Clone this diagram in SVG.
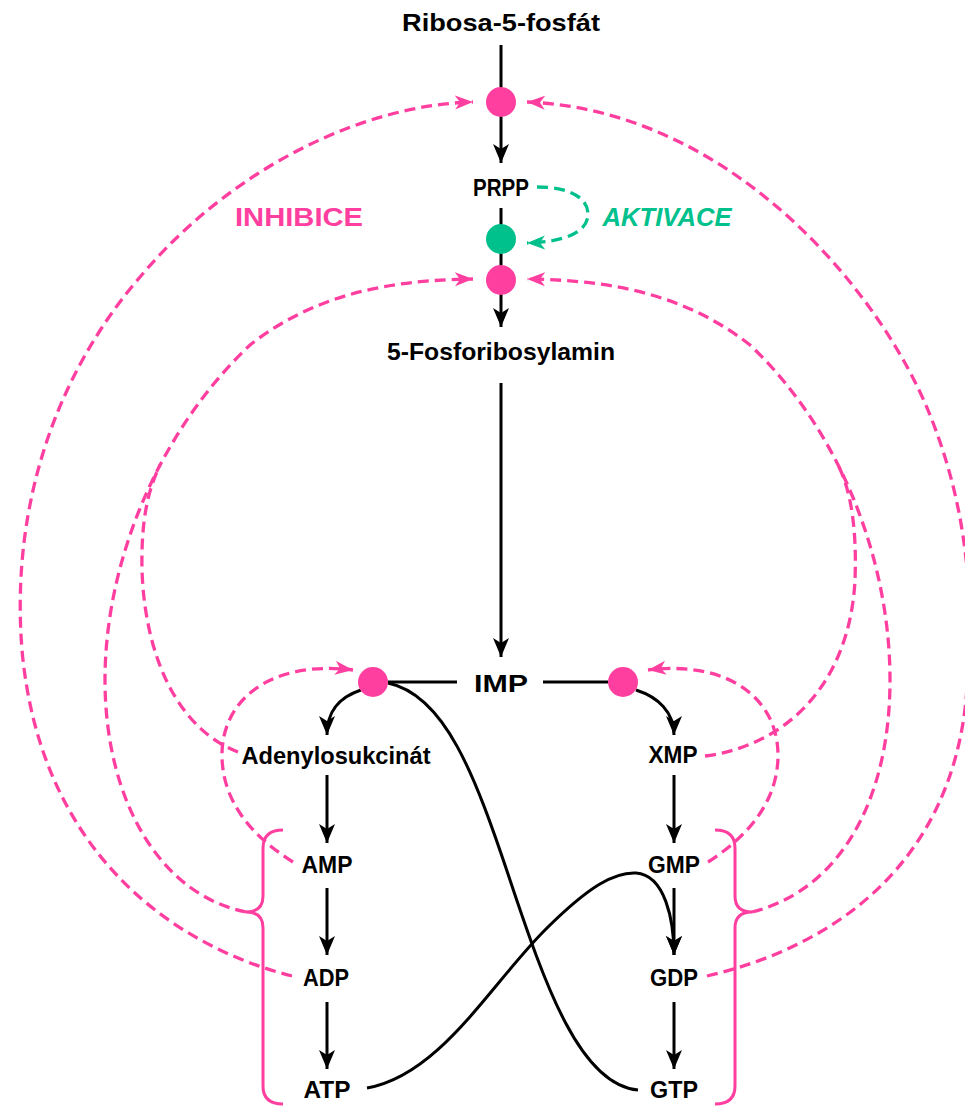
<svg xmlns="http://www.w3.org/2000/svg" width="965" height="1106" viewBox="0 0 965 1106">
<style>
.lbl{font-family:"Liberation Sans","DejaVu Sans",sans-serif;font-weight:bold;font-size:24px;fill:#000;text-anchor:middle}
.big{font-family:"Liberation Sans","DejaVu Sans",sans-serif;font-weight:bold;font-size:26px;text-anchor:middle}
.blk{fill:none;stroke:#000;stroke-width:3}
.inh{fill:none;stroke:#ff3fa0;stroke-width:3.3;stroke-dasharray:11 6}
.act{fill:none;stroke:#00c08c;stroke-width:3.3;stroke-dasharray:11 6}
.brace{fill:none;stroke:#ff3fa0;stroke-width:3}
.pk{fill:#ff3fa0}
.gn{fill:#00c08c}
</style>
<defs>
<marker id="ab" markerUnits="userSpaceOnUse" markerWidth="22" markerHeight="18" refX="19" refY="8" orient="auto"><path d="M0,0 L19,8 L0,16 L5,8 z" fill="#000"/></marker>
<marker id="ap" markerUnits="userSpaceOnUse" markerWidth="20" markerHeight="16" refX="18" refY="7" orient="auto"><path d="M0,0 L18,7 L0,14 L5,7 z" fill="#ff3fa0"/></marker>
<marker id="ag" markerUnits="userSpaceOnUse" markerWidth="20" markerHeight="16" refX="18" refY="7" orient="auto"><path d="M0,0 L18,7 L0,14 L5,7 z" fill="#00c08c"/></marker>
</defs>

<g id="connectors">
<path class="blk" d="M501,45 L501,88"/>
<path class="blk" d="M501,116 L501,163" marker-end="url(#ab)"/>
<path class="blk" d="M501,208 L501,225"/>
<path class="blk" d="M501,253 L501,266"/>
<path class="blk" d="M501,294 L501,327" marker-end="url(#ab)"/>
<path class="blk" d="M501,383 L501,657" marker-end="url(#ab)"/>
<path class="blk" d="M388,682 L457,682"/>
<path class="blk" d="M543,682 L608,682"/>
<path class="blk" d="M361,690 C 340,697 327,710 327,735" marker-end="url(#ab)"/>
<path class="blk" d="M636,690 C 658,697 674,712 674,735" marker-end="url(#ab)"/>
<path class="blk" d="M327,775 L327,843" marker-end="url(#ab)"/>
<path class="blk" d="M327,888 L327,955" marker-end="url(#ab)"/>
<path class="blk" d="M327,1002 L327,1069" marker-end="url(#ab)"/>
<path class="blk" d="M674,775 L674,843" marker-end="url(#ab)"/>
<path class="blk" d="M674,888 L674,955" marker-end="url(#ab)"/>
<path class="blk" d="M674,1002 L674,1069" marker-end="url(#ab)"/>
<path class="blk" d="M388,683 C 445,695 475,775 510,880 C 545,985 580,1085 638,1090"/>
<path class="blk" d="M367,1088 C 440,1075 490,985 545,930 C 590,885 615,872 636,873 C 665,875 674,920 674,955" marker-end="url(#ab)"/>

<path class="act" d="M537,187 C 570,187 588,198 588,214 C 588,232 565,242 527,243" marker-end="url(#ag)"/>

<path class="inh" d="M292,976 C 170,945 40,850 22,650 C 10,500 60,370 140,277 C 230,170 360,105 473,102" marker-end="url(#ap)"/>
<path class="inh" d="M246,912 C 160,895 105,800 105,680 C 105,560 160,430 250,345 C 320,290 400,280 473,279" marker-end="url(#ap)"/>
<path class="inh" d="M238,752 C 180,730 145,660 142,570 C 141,520 148,490 160,465"/>
<path class="inh" d="M293,862 C 250,835 222,800 222,755 C 222,700 270,660 353,670" marker-end="url(#ap)"/>
<path class="inh" d="M708,862 C 750,835 778,800 778,755 C 778,700 730,660 648,670" marker-end="url(#ap)"/>
<path class="inh" d="M705,756 C 790,745 850,680 855,580 C 857,530 851,490 838,465"/>
<path class="inh" d="M752,912 C 840,890 890,800 890,680 C 890,560 840,430 750,345 C 680,290 600,280 527,279" marker-end="url(#ap)"/>
<path class="inh" d="M707,976 C 840,945 950,860 966,700 C 975,600 968,510 930,415 C 880,290 730,110 527,102" marker-end="url(#ap)"/>

<path class="brace" d="M283,830 Q263,830 263,848 L263,896 Q263,912 246,912 Q263,912 263,928 L263,1086 Q263,1104 283,1104"/>
<path class="brace" d="M715,830 Q735,830 735,848 L735,896 Q735,912 752,912 Q735,912 735,928 L735,1086 Q735,1104 715,1104"/>
</g>

<g id="enzyme-r5p"><circle class="pk" cx="501" cy="102" r="15"/></g>
<g id="enzyme-prpp-act"><circle class="gn" cx="501" cy="239" r="15"/></g>
<g id="enzyme-prpp-inh"><circle class="pk" cx="501" cy="280" r="15"/></g>
<g id="enzyme-imp-a"><circle class="pk" cx="373" cy="682" r="15"/></g>
<g id="enzyme-imp-g"><circle class="pk" cx="623" cy="682" r="15"/></g>

<g id="n-ribosa"><text class="lbl" x="501" y="31" textLength="198" lengthAdjust="spacingAndGlyphs">Ribosa-5-fosfát</text></g>
<g id="n-prpp"><text class="lbl" x="501" y="196" textLength="56" lengthAdjust="spacingAndGlyphs">PRPP</text></g>
<g id="n-fra"><text class="lbl" x="501" y="360" textLength="228" lengthAdjust="spacingAndGlyphs">5-Fosforibosylamin</text></g>
<g id="n-imp"><text class="lbl" x="501" y="692" textLength="54" lengthAdjust="spacingAndGlyphs">IMP</text></g>
<g id="n-ads"><text class="lbl" x="336" y="764" textLength="189" lengthAdjust="spacingAndGlyphs">Adenylosukcinát</text></g>
<g id="n-xmp"><text class="lbl" x="673" y="763" textLength="49" lengthAdjust="spacingAndGlyphs">XMP</text></g>
<g id="n-amp"><text class="lbl" x="327" y="873" textLength="51" lengthAdjust="spacingAndGlyphs">AMP</text></g>
<g id="n-adp"><text class="lbl" x="326" y="986" textLength="46" lengthAdjust="spacingAndGlyphs">ADP</text></g>
<g id="n-atp"><text class="lbl" x="327" y="1098" textLength="47" lengthAdjust="spacingAndGlyphs">ATP</text></g>
<g id="n-gmp"><text class="lbl" x="674" y="873" textLength="52" lengthAdjust="spacingAndGlyphs">GMP</text></g>
<g id="n-gdp"><text class="lbl" x="674" y="986" textLength="48" lengthAdjust="spacingAndGlyphs">GDP</text></g>
<g id="n-gtp"><text class="lbl" x="674" y="1098" textLength="48" lengthAdjust="spacingAndGlyphs">GTP</text></g>

<g id="label-inhibice"><text class="big" x="299" y="226" fill="#ff3fa0" textLength="128" lengthAdjust="spacingAndGlyphs">INHIBICE</text></g>
<g id="label-aktivace"><text class="big" x="667" y="226" fill="#00c08c" font-style="italic" textLength="129" lengthAdjust="spacingAndGlyphs">AKTIVACE</text></g>
</svg>
